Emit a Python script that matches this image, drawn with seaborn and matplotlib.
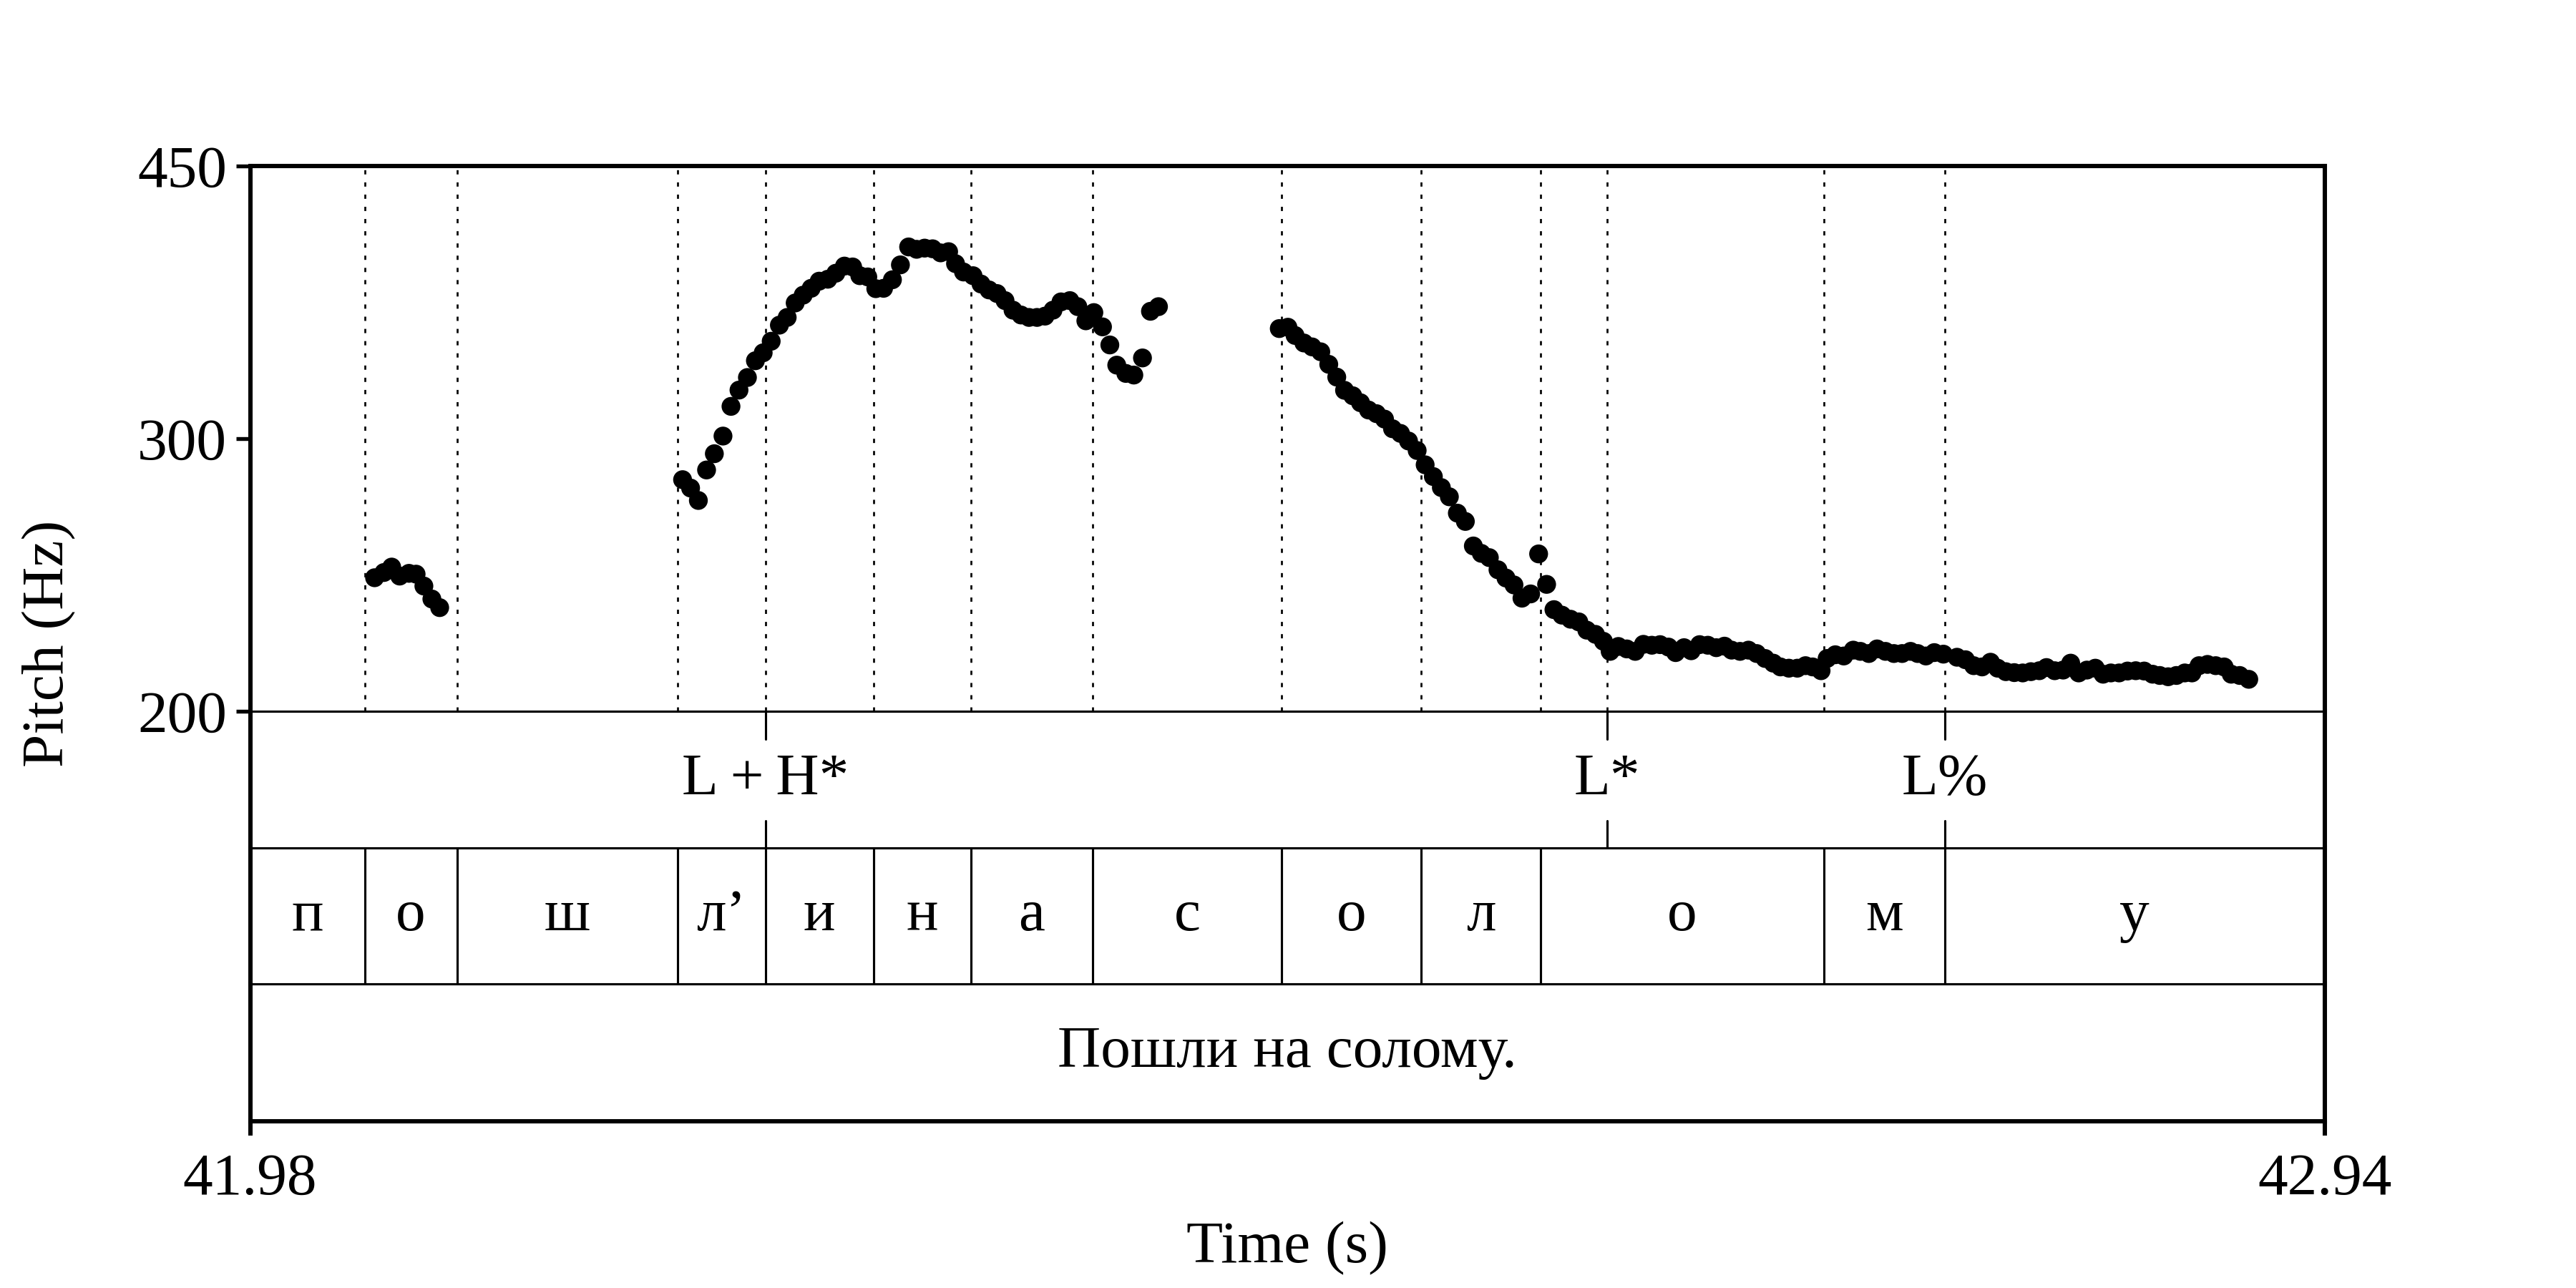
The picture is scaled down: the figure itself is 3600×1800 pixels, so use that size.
import matplotlib
matplotlib.use('agg')
import matplotlib.pyplot as plt
import seaborn as sns
import pandas as pd
from matplotlib.ticker import FixedLocator, FixedFormatter, NullLocator

# pitch track (time in s, F0 in Hz)
time_1 = [42.0376, 42.0419, 42.0455, 42.0492, 42.0535, 42.0568, 42.0604, 42.0641, 42.0677]
pitch_1 = [244.0, 245.9, 247.9, 244.6, 245.6, 245.3, 241.0, 236.4, 233.4]

time_2 = [42.1801, 42.1838, 42.1874, 42.1912, 42.1948, 42.1988, 42.2025, 42.2062, 42.2101, 42.2138,
          42.2174, 42.2211, 42.2249, 42.2285, 42.2322, 42.2359, 42.2396, 42.2433, 42.2473, 42.2510,
          42.2550, 42.2588, 42.2621, 42.2658, 42.2695, 42.2731, 42.2772, 42.2809, 42.2847, 42.2884,
          42.2921, 42.2958, 42.2995, 42.3032, 42.3064, 42.3101, 42.3145, 42.3182, 42.3219, 42.3256,
          42.3293, 42.3330, 42.3367, 42.3404, 42.3441, 42.3478, 42.3515, 42.3552, 42.3593, 42.3630,
          42.3667, 42.3704, 42.3744, 42.3778, 42.3810, 42.3852, 42.3889, 42.3929, 42.3966, 42.4003]
pitch_2 = [282.3, 278.8, 273.7, 286.4, 293.4, 301.2, 314.8, 322.5, 328.6, 336.9,
           340.9, 346.8, 355.2, 359.3, 367.1, 371.4, 375.2, 379.2, 380.3, 383.7,
           387.8, 387.3, 382.3, 381.6, 375.0, 375.2, 380.0, 388.5, 399.0, 397.6,
           398.3, 397.9, 395.5, 396.2, 389.2, 384.4, 382.3, 377.6, 374.3, 372.3,
           368.4, 363.2, 360.6, 359.3, 359.3, 360.0, 363.2, 367.7, 368.4, 365.1,
           357.5, 361.9, 354.3, 344.9, 334.7, 330.6, 329.8, 338.3, 362.6, 365.1]

time_3 = [42.4562, 42.4602, 42.4635, 42.4676, 42.4714, 42.4754, 42.4791, 42.4828, 42.4864, 42.4902,
          42.4938, 42.4975, 42.5012, 42.5049, 42.5086, 42.5123, 42.5160, 42.5200, 42.5237, 42.5275,
          42.5312, 42.5349, 42.5386, 42.5423, 42.5460, 42.5497, 42.5534, 42.5574, 42.5611, 42.5648,
          42.5685, 42.5725, 42.5762, 42.5799, 42.5833, 42.5870, 42.5910, 42.5948, 42.5985, 42.6025,
          42.6062, 42.6093, 42.6131, 42.6170, 42.6209, 42.6247, 42.6286, 42.6324, 42.6363, 42.6396,
          42.6435, 42.6468, 42.6507, 42.6545, 42.6584, 42.6622, 42.6655, 42.6694, 42.6733, 42.6771,
          42.6810, 42.6848, 42.6881, 42.6920, 42.6959, 42.6997, 42.7030, 42.7069, 42.7097, 42.7135,
          42.7174, 42.7218, 42.7251, 42.7290, 42.7328, 42.7367, 42.7406, 42.7444, 42.7483, 42.7516,
          42.7554, 42.7593, 42.7635, 42.7698, 42.7737, 42.7775, 42.7814, 42.7853, 42.7886, 42.7924,
          42.7963, 42.8002, 42.8040, 42.8079, 42.8112, 42.8150, 42.8189, 42.8224, 42.8261, 42.8299,
          42.8338, 42.8374, 42.8410, 42.8448, 42.8487, 42.8525, 42.8564, 42.8603, 42.8636, 42.8675,
          42.8713, 42.8752, 42.8785, 42.8818, 42.8857, 42.8895, 42.8934, 42.8967, 42.9006, 42.9048]
pitch_3 = [353.4, 354.1, 349.8, 345.9, 343.9, 341.4, 335.1, 328.8, 322.4, 319.8,
           316.5, 313.1, 311.4, 308.9, 304.5, 302.4, 299.0, 294.8, 288.6, 283.6,
           279.0, 275.2, 268.6, 265.3, 255.8, 253.0, 251.4, 246.9, 243.9, 241.4,
           236.7, 238.2, 252.8, 241.6, 232.7, 230.8, 229.4, 228.5, 225.7, 224.3,
           222.0, 218.7, 220.3, 219.5, 218.7, 221.0, 220.7, 220.9, 220.1, 218.3,
           219.9, 218.9, 220.9, 220.7, 219.9, 220.4, 219.1, 218.7, 219.1, 218.0,
           216.4, 214.9, 213.7, 213.3, 213.3, 214.1, 213.7, 212.5, 216.4, 217.6,
           217.2, 219.1, 218.7, 218.0, 219.5, 218.7, 218.0, 218.0, 218.7, 218.0,
           217.2, 218.3, 217.8, 216.8, 216.0, 214.1, 213.7, 215.2, 213.3, 212.2,
           211.9, 211.8, 212.2, 212.5, 213.5, 212.5, 212.7, 214.9, 211.8, 212.7,
           213.3, 211.4, 211.8, 211.8, 212.4, 212.5, 212.4, 211.4, 211.0, 210.6,
           211.0, 211.8, 211.8, 214.1, 214.5, 214.1, 213.7, 211.4, 211.0, 209.8]

# tone tier (points)
tone_times = [42.2184, 42.6078, 42.7641]
tone_labels = ['L\u2009+\u2009H*', 'L*', 'L%']

# segment tier (interval boundaries)
seg_bounds = [41.98, 42.0330, 42.0757, 42.1777, 42.2184, 42.2685, 42.3137, 42.3697,
              42.4574, 42.5219, 42.5771, 42.7081, 42.7641, 42.94]
seg_labels = ['п', 'о', 'ш', 'л’', 'и', 'н', 'а', 'с', 'о', 'л', 'о', 'м', 'у']

sentence = 'Пошли на солому.'

t_start, t_end = 41.98, 42.94
f_min, f_max = 200, 450
y_ticks = [200, 300, 450]

df = pd.DataFrame({'time': time_1 + time_2 + time_3,
                   'pitch': pitch_1 + pitch_2 + pitch_3})

sns.set_style('white')
plt.rcParams['font.family'] = ['Liberation Serif', 'DejaVu Serif']
plt.rcParams['font.size'] = 20
for key in ('text.color', 'axes.labelcolor', 'xtick.color', 'ytick.color', 'axes.edgecolor'):
    plt.rcParams[key] = 'black'

thick, thin = 1.45, 0.75
fig = plt.figure(figsize=(12, 6), dpi=300)
gs = fig.add_gridspec(4, 1, height_ratios=[762, 191, 190, 191], hspace=0,
                      left=0.0971, right=0.9025, top=0.8711, bottom=0.1297)
ax0 = fig.add_subplot(gs[0])
ax1 = fig.add_subplot(gs[1], sharex=ax0)
ax2 = fig.add_subplot(gs[2], sharex=ax0)
ax3 = fig.add_subplot(gs[3], sharex=ax0)
for ax in (ax0, ax1, ax2, ax3):
    ax.patch.set_visible(False)  # keep neighbouring panels from hiding the shared lines

# pitch panel
all_bounds = sorted(set(seg_bounds[1:-1] + tone_times))
for t in all_bounds:
    ax0.axvline(t, color='black', lw=0.65, linestyle=(0, (2.2, 4.1)), zorder=1)
sns.scatterplot(data=df, x='time', y='pitch', ax=ax0, color='black', s=40,
                edgecolor='none', linewidth=0, zorder=3, legend=False)
ax0.set_yscale('log')
ax0.set_ylim(f_min, f_max)
ax0.set_xlim(t_start, t_end)
ax0.yaxis.set_major_locator(FixedLocator(y_ticks))
ax0.yaxis.set_major_formatter(FixedFormatter([str(v) for v in y_ticks]))
ax0.yaxis.set_minor_locator(NullLocator())
ax0.tick_params(axis='y', which='major', direction='out', length=4.8, width=1.3,
                pad=3, left=True, labelsize=20, colors='black')
ax0.tick_params(axis='x', bottom=False, labelbottom=False)
ax0.set_xlabel('')
ax0.set_ylabel('')

# tone tier
for t, lab in zip(tone_times, tone_labels):
    ax1.plot([t, t], [0.8, 1.0], color='black', lw=thin)
    ax1.plot([t, t], [0.0, 0.2], color='black', lw=thin)
    ax1.text(t, 0.5, lab, ha='center', va='center', fontsize=20, color='black')

# segment tier
for t in seg_bounds[1:-1]:
    ax2.plot([t, t], [0, 1], color='black', lw=thin)
for a, b, lab in zip(seg_bounds[:-1], seg_bounds[1:], seg_labels):
    ax2.text((a + b) / 2, 0.5, lab, ha='center', va='center', fontsize=20, color='black')

# sentence tier
ax3.text((t_start + t_end) / 2, 0.5, sentence, ha='center', va='center', fontsize=20,
         color='black')

for ax in (ax1, ax2, ax3):
    ax.set_ylim(0, 1)
    ax.set_yticks([])
    ax.tick_params(axis='x', bottom=False, labelbottom=False)

ax3.set_xticks([t_start, t_end])
ax3.set_xticklabels(['41.98', '42.94'])
ax3.tick_params(axis='x', bottom=True, labelbottom=True, direction='out',
                length=4.8, width=thick, pad=6, labelsize=20, colors='black')

for ax in (ax0, ax1, ax2, ax3):
    for side in ('left', 'right'):
        ax.spines[side].set_linewidth(thick)
        ax.spines[side].set_color('black')
    ax.spines['bottom'].set_linewidth(thin)
    ax.spines['bottom'].set_color('black')
    ax.spines['top'].set_visible(False)
ax0.spines['top'].set_visible(True)
ax0.spines['top'].set_linewidth(thick)
ax0.spines['top'].set_color('black')
ax3.spines['bottom'].set_linewidth(thick)

fig.text(0.0192, 0.5006, 'Pitch (Hz)', rotation=90, ha='center', va='center', fontsize=20,
         color='black')
fig.text(0.4997, 0.0306, 'Time (s)', ha='center', va='center', fontsize=20, color='black')

fig.savefig('out.png', dpi=300)
